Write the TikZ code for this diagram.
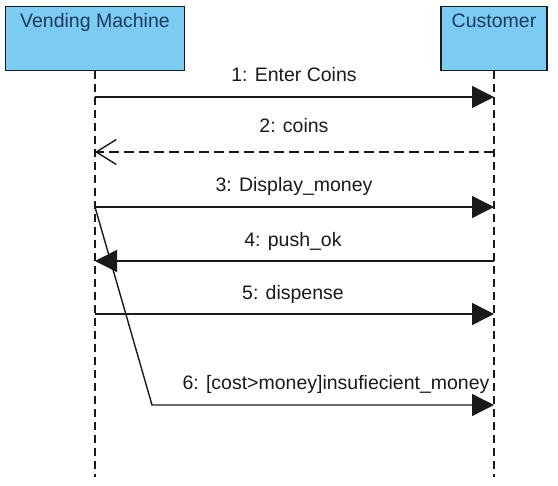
\documentclass[tikz,border=0pt]{standalone}
\usepackage{fontspec}
\setmainfont{Liberation Sans}
\usetikzlibrary{arrows.meta}
\definecolor{boxfill}{HTML}{7CCBF2}
\definecolor{boxtext}{HTML}{1B3B5C}
\definecolor{ink}{HTML}{1A1A1A}
\begin{document}
\begin{tikzpicture}[x=1pt,y=-1pt,
  actor/.style={draw=ink, line width=1.5pt, fill=boxfill, text=boxtext, inner sep=0pt,
    text height=21pt, text depth=43pt, align=center, font=\fontsize{19.5}{20}\selectfont},
  life/.style={draw=ink, line width=1.4pt, dash pattern=on 8pt off 5pt},
  msg/.style={draw=ink, line width=1.4pt, -{Triangle[length=22pt,width=22pt]}},
  ret/.style={draw=ink, line width=1.4pt, dash pattern=on 10pt off 5pt,
    -{Straight Barb[length=20pt,width=25pt,line width=1.4pt]}},
  lbl/.style={anchor=base, inner sep=0pt, text=ink, font=\fontsize{19.5}{20}\selectfont}]
\useasboundingbox (0,0) rectangle (558,486);
\fill[white] (0,0) rectangle (558,486);
% actors
\node[actor, minimum width=179pt, anchor=north] (vm) at (95,6) {Vending Machine};
\node[actor, minimum width=106pt, anchor=north] (cu) at (494,6) {Customer};
% lifelines
\coordinate (vmb) at (95,477);
\coordinate (cub) at (494,477);
\draw[life] (vm.south) -- (vmb);
\draw[life] (cu.south) -- (cub);
% message anchor points
\coordinate (v1) at (95,97);   \coordinate (c1) at (494,97);
\coordinate (v2) at (95,152);  \coordinate (c2) at (494,152);
\coordinate (v3) at (95,207);  \coordinate (c3) at (494,207);
\coordinate (v4) at (95,261);  \coordinate (c4) at (494,261);
\coordinate (v5) at (95,314);  \coordinate (c5) at (494,314);
\coordinate (d6) at (152,405); \coordinate (c6) at (494,405);
% messages
\draw[msg] (v1) -- (c1);
\draw[ret] (c2) -- (v2);
\draw[msg] (v3) -- (c3);
\draw[msg] (c4) -- (v4);
\draw[msg] (v5) -- (c5);
\draw[msg] (v3) -- (d6) -- (c6);
% labels
\node[lbl] (l1) at (294,82)  {1: Enter Coins};
\node[lbl] (l2) at (294,133) {2: coins};
\node[lbl] (l3) at (294,192) {3: Display\_money};
\node[lbl] (l4) at (293,247) {4: push\_ok};
\node[lbl] (l5) at (293,300) {5: dispense};
\node[lbl] (l6) at (336,390) {6: [cost>money]insufiecient\_money};
\end{tikzpicture}
\end{document}
